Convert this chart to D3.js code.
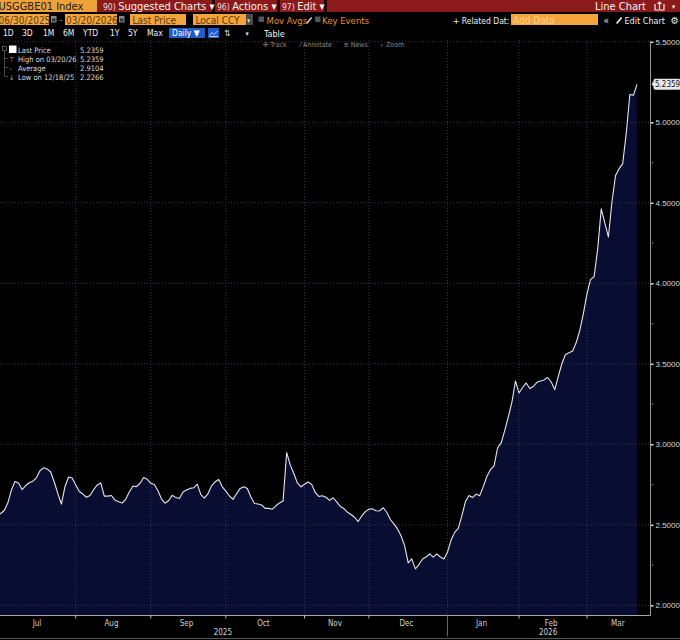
<!DOCTYPE html>
<html>
<head>
<meta charset="utf-8">
<title>USGGBE01 Index</title>
<style>
  html, body { margin: 0; padding: 0; background: #000; }
  svg { display: block; font-family: "DejaVu Sans Condensed", "Liberation Sans Narrow", "Liberation Sans", sans-serif; font-stretch: condensed; }
</style>
<script src="https://cdn.jsdelivr.net/npm/d3@7"></script>
</head>
<body>
<div id="chart"></div>
<script>
// ---- data ----
const startDate = "2025-06-30";
const endDate = "2026-03-20";
// bond market closures (no data point)
const holidays = ["2025-07-04", "2025-09-01", "2025-10-13", "2025-11-11", "2025-11-27",
                  "2025-12-25", "2026-01-01", "2026-01-19", "2026-02-16"];
// one value per trading day
const values = [
  2.555, 2.561, 2.570, 2.589, 2.635, 2.716, 2.769, 2.760, 2.719, 2.744,
  2.761, 2.771, 2.792, 2.836, 2.854, 2.847, 2.828, 2.766, 2.694, 2.629,
  2.738, 2.797, 2.791, 2.747, 2.707, 2.691, 2.671, 2.682, 2.718, 2.747,
  2.760, 2.678, 2.678, 2.682, 2.653, 2.643, 2.635, 2.660, 2.704, 2.741,
  2.737, 2.758, 2.794, 2.783, 2.758, 2.750, 2.711, 2.660, 2.634, 2.651,
  2.683, 2.669, 2.663, 2.704, 2.716, 2.726, 2.730, 2.753, 2.687, 2.666,
  2.694, 2.742, 2.767, 2.781, 2.736, 2.709, 2.679, 2.658, 2.694, 2.726,
  2.736, 2.725, 2.673, 2.632, 2.629, 2.623, 2.602, 2.602, 2.597, 2.618,
  2.636, 2.648, 2.948, 2.872, 2.819, 2.760, 2.736, 2.752, 2.766, 2.751,
  2.701, 2.676, 2.680, 2.671, 2.652, 2.668, 2.642, 2.614, 2.601, 2.578,
  2.564, 2.547, 2.520, 2.555, 2.582, 2.597, 2.599, 2.587, 2.586, 2.606,
  2.578, 2.533, 2.506, 2.475, 2.432, 2.371, 2.263, 2.288, 2.2266, 2.253,
  2.288, 2.300, 2.319, 2.299, 2.319, 2.300, 2.288, 2.331, 2.405, 2.453,
  2.478, 2.555, 2.643, 2.682, 2.669, 2.691, 2.681, 2.737, 2.800, 2.842,
  2.865, 2.977, 3.009, 3.085, 3.170, 3.260, 3.393, 3.319, 3.353, 3.381,
  3.347, 3.359, 3.385, 3.393, 3.400, 3.415, 3.387, 3.340, 3.424, 3.502,
  3.558, 3.568, 3.580, 3.632, 3.707, 3.812, 3.934, 4.024, 4.041, 4.213,
  4.462, 4.375, 4.288, 4.508, 4.670, 4.712, 4.743, 4.934, 5.173, 5.169,
  5.2359
];
const yTicks = [2.0, 2.5, 3.0, 3.5, 4.0, 4.5, 5.0, 5.5];
const yMinorTicks = [2.25, 2.75, 3.25, 3.75, 4.25, 4.75, 5.25];
const legendLabels = ["Last Price", "High on 03/20/26", "Average", "Low on 12/18/25"];
const legendValues = [5.2359, 5.2359, 2.9104, 2.2266];
const periodButtons = ["1D", "3D", "1M", "6M", "YTD", "1Y", "5Y", "Max"];

// ---- trading day calendar ----
const parse = d3.timeParse("%Y-%m-%d");
const fmtDay = d3.timeFormat("%Y-%m-%d");
const dates = d3.timeDay.range(parse(startDate), d3.timeDay.offset(parse(endDate), 1))
  .filter(d => d.getDay() !== 0 && d.getDay() !== 6 && !holidays.includes(fmtDay(d)));
const series = dates.map((d, i) => ({ date: d, i: i, value: values[i] }));

const W = 680, H = 640;
const plot = { left: 0, right: 650.5, top: 40, bottom: 615.5 };

const svg = d3.select("#chart").append("svg")
  .attr("width", W)
  .attr("height", H);

svg.append("rect").attr("width", W).attr("height", H).attr("fill", "#000");

const x = d3.scaleLinear()
  .domain([0, series.length - 1])
  .range([-6.5, 637]);

const y = d3.scaleLinear()
  .domain([2.0, 5.5])
  .range([605.3, 41.8]);

svg.append("clipPath").attr("id", "plotClip")
  .append("rect")
  .attr("x", plot.left).attr("y", plot.top)
  .attr("width", plot.right - plot.left).attr("height", plot.bottom - plot.top);

const g = svg.append("g").attr("clip-path", "url(#plotClip)");

// area under the line
const area = d3.area()
  .x(d => x(d.i))
  .y0(plot.bottom)
  .y1(d => y(d.value));

g.append("path")
  .datum(series)
  .attr("fill", "#080d31")
  .attr("d", area);

// month / year groups
const months = d3.groups(series, d => d3.timeFormat("%Y-%m")(d.date)).map(([k, rows]) => ({
  key: k, first: rows[0].i, last: rows[rows.length - 1].i, date: rows[0].date
}));
const years = d3.groups(series, d => d.date.getFullYear()).map(([k, rows]) => ({
  key: k, first: rows[0].i, last: rows[rows.length - 1].i
}));
// the single June day gets no label
const labelledMonths = months.filter(d => d.last - d.first >= 3);

// gridlines
g.selectAll(".hgrid")
  .data(yTicks)
  .enter().append("line")
  .attr("x1", plot.left).attr("x2", plot.right)
  .attr("y1", d => y(d)).attr("y2", d => y(d))
  .attr("stroke", "#434860")
  .attr("stroke-width", 0.8)
  .attr("stroke-dasharray", "1,2");

g.selectAll(".vgrid")
  .data(months.slice(2))
  .enter().append("line")
  .attr("x1", d => x(d.first)).attr("x2", d => x(d.first))
  .attr("y1", plot.top).attr("y2", plot.bottom)
  .attr("stroke", "#434860")
  .attr("stroke-width", 0.8)
  .attr("stroke-dasharray", "1,2");

// price line
g.append("path")
  .datum(series)
  .attr("fill", "none")
  .attr("stroke", "#e6e6ee")
  .attr("stroke-width", 1.1)
  .attr("stroke-linejoin", "round")
  .attr("d", d3.line().x(d => x(d.i)).y(d => y(d.value)));

// right axis
const yAxis = svg.append("g")
  .attr("transform", `translate(${plot.right},0)`)
  .call(d3.axisRight(y).tickValues(yTicks).tickFormat(d3.format(".4f")).tickSize(3).tickPadding(2));
yAxis.select(".domain").remove();
yAxis.selectAll("line").attr("stroke", "#ddd").attr("stroke-width", 1.5);
yAxis.selectAll("text")
  .attr("fill", "#d8d8d8")
  .style("font-size", "8px")
  .style("font-family", "inherit");

svg.append("line")
  .attr("x1", plot.right).attr("x2", plot.right)
  .attr("y1", plot.top + 1).attr("y2", plot.bottom)
  .attr("stroke", "#9a9a9a").attr("stroke-width", 1);

svg.selectAll(".minor")
  .data(yMinorTicks)
  .enter().append("rect")
  .attr("x", plot.right + 1.5).attr("y", d => y(d) - 0.5)
  .attr("width", 1.2).attr("height", 1.2)
  .attr("fill", "#888");

// last value label
const lastVal = series[series.length - 1].value;
svg.append("path")
  .attr("d", `M${plot.right + 1},${y(lastVal)} l3,-3 h25 v6 h-25 z`)
  .attr("fill", "#e8e8e8");
svg.append("rect")
  .attr("x", plot.right + 3).attr("y", y(lastVal) - 5.5)
  .attr("width", 27).attr("height", 11).attr("rx", 2)
  .attr("fill", "#e8e8e8");
svg.append("text")
  .attr("x", plot.right + 4.5).attr("y", y(lastVal) + 3)
  .attr("fill", "#111")
  .style("font-size", "8px")
  .text(d3.format(".4f")(lastVal));

// bottom axis
svg.append("line")
  .attr("x1", 0).attr("x2", plot.right)
  .attr("y1", plot.bottom).attr("y2", plot.bottom)
  .attr("stroke", "#a8a8a8").attr("stroke-width", 1.2);

svg.selectAll(".xtick")
  .data(months.slice(2))
  .enter().append("line")
  .attr("x1", d => x(d.first)).attr("x2", d => x(d.first))
  .attr("y1", plot.bottom).attr("y2", plot.bottom + 3)
  .attr("stroke", "#bbb");

svg.selectAll(".mlabel")
  .data(labelledMonths)
  .enter().append("text")
  .attr("x", (d, i) => {
    const a = Math.max(plot.left, x(d.first - 0.5));
    const b = i === labelledMonths.length - 1 ? plot.right : x(d.last + 0.5);
    return (a + b) / 2;
  })
  .attr("y", plot.bottom + 10)
  .attr("text-anchor", "middle")
  .attr("fill", "#d0d0d0")
  .style("font-size", "8px")
  .text(d => d3.timeFormat("%b")(d.date));

svg.selectAll(".ylabel")
  .data(years)
  .enter().append("text")
  .attr("x", (d, i) => {
    const a = Math.max(plot.left, x(d.first - 0.5));
    const b = i === years.length - 1 ? plot.right : x(d.last + 0.5);
    return (a + b) / 2;
  })
  .attr("y", plot.bottom + 19)
  .attr("text-anchor", "middle")
  .attr("fill", "#d0d0d0")
  .style("font-size", "8px")
  .text(d => d.key);

svg.selectAll(".ysep")
  .data(years.slice(1))
  .enter().append("line")
  .attr("x1", d => x(d.first)).attr("x2", d => x(d.first))
  .attr("y1", plot.bottom).attr("y2", plot.bottom + 21)
  .attr("stroke", "#666");

svg.append("line")
  .attr("x1", 0).attr("x2", W).attr("y1", 638.5).attr("y2", 638.5)
  .attr("stroke", "#555");

// ---- toolbar ----
const bar = svg.append("g");

function label(parent, tx, ty, str, size, color, anchor) {
  return parent.append("text")
    .attr("x", tx).attr("y", ty)
    .attr("fill", color)
    .attr("text-anchor", anchor || "start")
    .style("font-size", size + "px")
    .text(str);
}

// row 1
bar.append("rect").attr("x", 0).attr("y", 0).attr("width", W).attr("height", 12).attr("fill", "#8c1a1a");
bar.append("rect").attr("x", 0).attr("y", 0).attr("width", 97).attr("height", 12).attr("fill", "#f0a23a");
label(bar, -1.5, 10, "USGGBE01 Index", 11, "#1a1a1a");
[[212, 3], [277, 3], [324, 3]].forEach(([sx, sw]) =>
  bar.append("rect").attr("x", sx).attr("y", 0).attr("width", sw).attr("height", 12).attr("fill", "#1a0505"));
[[103, "90)", "Suggested Charts ▾"], [217, "96)", "Actions ▾"], [282, "97)", "Edit ▾"]].forEach(([tx, n, s]) => {
  const t = bar.append("text").attr("x", tx).attr("y", 10).attr("fill", "#f2f2f2").style("font-size", "11px");
  t.append("tspan").style("font-size", "8.5px").attr("fill", "#e8dede").text(n + " ");
  t.append("tspan").text(s);
});
label(bar, 595, 10, "Line Chart", 11, "#f2f2f2");
bar.append("path").attr("d", "M655,4 v6 h9 v-6 M659.5,9 v-7 M657.5,4 l2,-2 l2,2")
  .attr("fill", "none").attr("stroke", "#f2f2f2").attr("stroke-width", 1.2);
label(bar, 672, 9, "▾", 7, "#f2f2f2");

// row 2
const orange = "#f3a43a";
[[0, 49, "06/30/2025", -1.5], [65, 52, "03/20/2026", 66], [130, 56, "Last Price", 132.5], [193, 53, "Local CCY", 195.5]]
  .forEach(([bx, bw, s, tx]) => {
    bar.append("rect").attr("x", bx).attr("y", 14).attr("width", bw).attr("height", 11).attr("fill", orange);
    label(bar, tx, 23.5, s, 10, "#5a3c0c");
  });
[51, 119].forEach(ix => {
  bar.append("rect").attr("x", ix).attr("y", 16).attr("width", 5.5).attr("height", 6.5).attr("fill", "#888");
  bar.append("rect").attr("x", ix + 1).attr("y", 18.5).attr("width", 3.5).attr("height", 3).attr("fill", "#333");
});
label(bar, 59.5, 23, "-", 9, "#aaa");
bar.append("rect").attr("x", 246).attr("y", 14).attr("width", 7).attr("height", 11).attr("fill", "#4a4a4a");
label(bar, 247, 22.5, "▾", 7, "#ddd");
bar.append("rect").attr("x", 258.5).attr("y", 16.5).attr("width", 5.5).attr("height", 5.5).attr("fill", "#555");
label(bar, 266.5, 23.5, "Mov Avgs", 9.5, "#e8902e");
bar.append("path").attr("d", "M306,23 l5,-6 l1.3,1.1 l-5,6 z").attr("fill", "#ccc");
bar.append("rect").attr("x", 315).attr("y", 16.5).attr("width", 5.5).attr("height", 5.5).attr("fill", "#555");
label(bar, 322, 23.5, "Key Events", 9.5, "#e8902e");

label(bar, 453, 23.5, "+ Related Dat:", 8.5, "#f0f0f0");
bar.append("rect").attr("x", 511).attr("y", 14).attr("width", 87).attr("height", 11).attr("fill", orange);
label(bar, 513, 23.5, "Add Data", 10, "#fbd18a");
label(bar, 603.5, 23.5, "«", 10, "#e0e0e0");
bar.append("path").attr("d", "M616,23 l5,-6 l1.3,1.1 l-5,6 z").attr("fill", "#eee");
label(bar, 624.5, 23.5, "Edit Chart", 9, "#f0f0f0");
label(bar, 670.5, 24, "⚙", 10, "#e8e8e8");

// row 3
const periodX = [3, 22, 43, 63, 83, 110, 128, 147];
periodButtons.forEach((s, i) => label(bar, periodX[i], 36, s, 8.5, "#f0f0f0"));
bar.append("rect").attr("x", 169).attr("y", 28).attr("width", 36).attr("height", 10).attr("fill", "#1f5ccc");
label(bar, 172, 36, "Daily ▼", 8.5, "#fff");
bar.append("rect").attr("x", 208).attr("y", 28).attr("width", 11).attr("height", 10).attr("fill", "#1f5ccc");
bar.append("path").attr("d", "M209.5,35.5 l2.5,-3 l2,2 l3.5,-3.5 M209.5,36.5 h8.5")
  .attr("fill", "none").attr("stroke", "#cfe0ff").attr("stroke-width", 0.9);
label(bar, 224, 36, "⇅", 8.5, "#ddd");
label(bar, 245.5, 36, "▾", 7, "#ddd");
label(bar, 264, 36.5, "Table", 9, "#f0f0f0");

// row 4
[[263, "✣ Track"], [300, "⁄ Annotate"], [343.5, "≡ News"], [380, "⌕ Zoom"]]
  .forEach(([tx, s]) => label(bar, tx, 46.5, s, 7, "#8a8a8a"));

// legend
const leg = svg.append("g");
leg.append("rect").attr("x", 2.5).attr("y", 46.5).attr("width", 4).attr("height", 4)
  .attr("fill", "none").attr("stroke", "#777").attr("stroke-width", 0.7);
leg.append("line").attr("x1", 4.5).attr("x2", 4.5).attr("y1", 51).attr("y2", 76)
  .attr("stroke", "#666").attr("stroke-width", 0.7);
leg.append("rect").attr("x", 9).attr("y", 45.5).attr("width", 7.5).attr("height", 7.5).attr("fill", "#fff");
const legMarks = ["", "⊤", "–", "↓"];
legendLabels.forEach((s, i) => {
  const by = 52.5 + i * 9;
  if (i > 0) {
    leg.append("line").attr("x1", 4.5).attr("x2", 8).attr("y1", by - 3).attr("y2", by - 3)
      .attr("stroke", "#666").attr("stroke-width", 0.7);
    label(leg, 9, by, legMarks[i], 7, "#aaa");
  }
  label(leg, 18, by, s, 7.5, "#dcdcdc");
  label(leg, 80, by, d3.format(".4f")(legendValues[i]), 7.5, "#dcdcdc");
});
</script>
</body>
</html>
